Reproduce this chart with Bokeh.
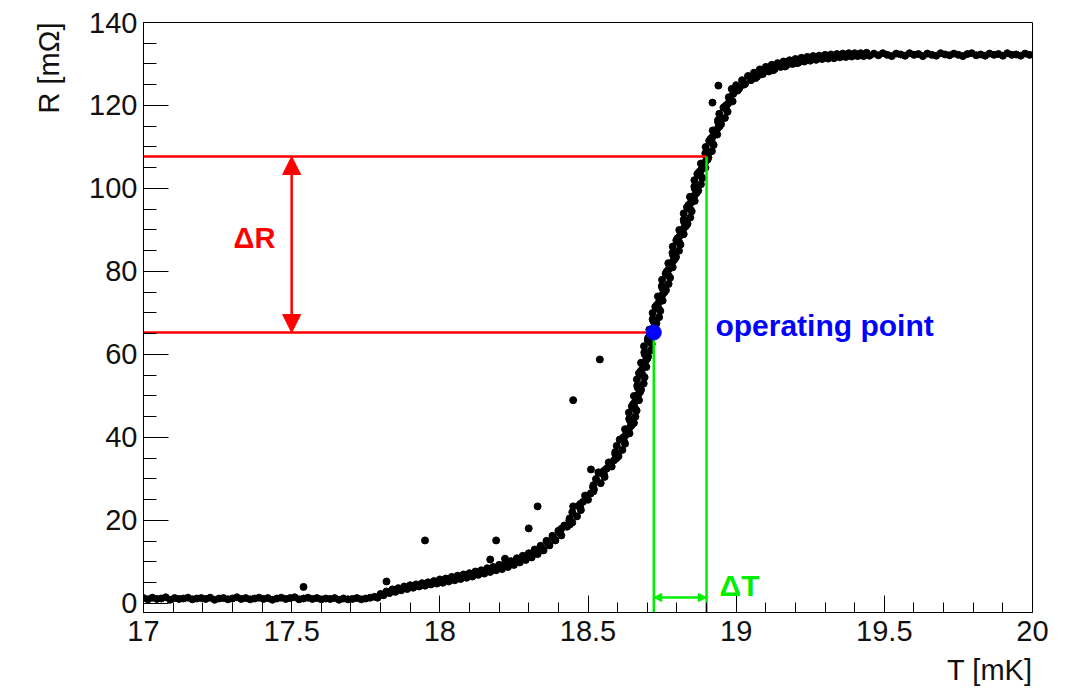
import math
from bokeh.plotting import figure
from bokeh.models import (Arrow, NormalHead, Label, FixedTicker, Title,
                          NumeralTickFormatter, Range1d)
from bokeh.embed import file_html
from bokeh.resources import INLINE

# ---------------- data ----------------
t_flat_low = [17.000, 17.015, 17.030, 17.045, 17.060, 17.075, 17.090, 17.105, 17.120, 17.135,
              17.150, 17.165, 17.180, 17.195, 17.210, 17.225, 17.240, 17.255, 17.270, 17.285,
              17.300, 17.315, 17.330, 17.345, 17.360, 17.375, 17.390, 17.405, 17.420, 17.435,
              17.450, 17.465, 17.480, 17.495, 17.510, 17.525, 17.540, 17.555, 17.570, 17.585,
              17.600, 17.615, 17.630, 17.645, 17.660, 17.675, 17.690, 17.705, 17.720, 17.735,
              17.750, 17.765, 17.780]
r_flat_low = [1.3, 1.0, 1.4, 1.1, 1.2, 1.5, 0.9, 1.3, 1.1, 1.2,
              1.4, 1.0, 1.2, 1.3, 1.1, 1.4, 0.9, 1.2, 1.3, 1.0,
              1.2, 1.5, 1.1, 1.3, 1.0, 1.2, 1.4, 1.1, 1.3, 0.9,
              1.2, 1.4, 1.1, 1.3, 1.5, 1.0, 1.2, 1.4, 1.1, 1.3,
              1.0, 1.2, 1.1, 1.3, 0.9, 1.2, 1.0, 1.1, 1.3, 1.0,
              1.2, 1.4, 1.6]

t_rise = [17.79, 17.80, 17.81, 17.82, 17.83, 17.84, 17.85, 17.86, 17.87, 17.88,
          17.89, 17.90, 17.91, 17.92, 17.93, 17.94, 17.95, 17.96, 17.97, 17.98,
          17.99, 18.00, 18.01, 18.02, 18.03, 18.04, 18.05, 18.06, 18.07, 18.08,
          18.09, 18.10, 18.11, 18.12, 18.13, 18.14, 18.15, 18.16, 18.17, 18.18,
          18.19, 18.20, 18.21, 18.22, 18.23, 18.24, 18.25, 18.26, 18.27, 18.28,
          18.29, 18.30, 18.31, 18.32, 18.33, 18.34, 18.35, 18.36, 18.37, 18.38,
          18.39, 18.40, 18.41, 18.42]
r_rise = [1.4, 2.3, 2.0, 2.9, 2.5, 3.4, 2.8, 3.7, 3.2, 4.1,
          3.5, 4.4, 3.8, 4.6, 4.1, 4.9, 4.3, 5.1, 4.6, 5.4,
          4.8, 5.8, 5.0, 6.0, 5.3, 6.4, 5.6, 6.7, 5.9, 7.0,
          6.2, 7.3, 6.5, 7.7, 6.9, 8.0, 7.2, 8.5, 7.6, 8.8,
          8.0, 9.3, 8.3, 9.7, 8.8, 10.2, 9.3, 10.9, 9.9, 11.5,
          10.5, 12.1, 11.1, 13.0, 11.9, 13.9, 12.8, 15.1, 14.0, 16.3,
          15.2, 17.5, 16.4, 18.8]

t_rise2 = [17.805, 17.825, 17.845, 17.865, 17.885, 17.905, 17.925, 17.945, 17.965, 17.985,
           18.005, 18.025, 18.045, 18.065, 18.085, 18.105, 18.125, 18.145, 18.165, 18.185,
           18.205, 18.225, 18.245, 18.265, 18.285, 18.305, 18.325, 18.345, 18.365, 18.385,
           18.405]
r_rise2 = [2.1, 2.7, 3.0, 3.4, 3.8, 4.0, 4.3, 4.6, 4.8, 5.1,
           5.3, 5.6, 6.0, 6.2, 6.6, 6.9, 7.3, 7.6, 8.0, 8.4,
           8.8, 9.2, 9.8, 10.3, 11.0, 11.6, 12.4, 13.3, 14.5, 15.7,
           17.0]

r_steep = [18, 19, 20, 21, 22, 23, 24, 25, 26, 27, 28, 29, 30, 31, 32, 33, 34, 35, 36, 37,
           38, 39, 40, 41, 42, 43, 44, 45, 46, 47, 48, 49, 50, 51, 52, 53, 54, 55, 56, 57,
           58, 59, 60, 61, 62, 63, 64, 65, 66, 67, 68, 69, 70, 71, 72, 73, 74, 75, 76, 77,
           78, 79, 80, 81, 82, 83, 84, 85, 86, 87, 88, 89, 90, 91, 92, 93, 94, 95, 96, 97,
           98, 99, 100, 101, 102, 103, 104, 105, 106, 107, 108, 109, 110, 111, 112, 113, 114,
           115, 116, 117, 118, 119, 120, 121, 122]
t_steep = [18.410, 18.438, 18.437, 18.463, 18.447, 18.474, 18.474, 18.500, 18.490, 18.518,
           18.517, 18.543, 18.527, 18.554, 18.554, 18.580, 18.570, 18.596, 18.592, 18.616,
           18.597, 18.622, 18.619, 18.640, 18.625, 18.648, 18.642, 18.660, 18.638, 18.659,
           18.652, 18.672, 18.655, 18.676, 18.668, 18.688, 18.665, 18.685, 18.678, 18.697,
           18.679, 18.700, 18.692, 18.712, 18.689, 18.710, 18.703, 18.723, 18.707, 18.728,
           18.721, 18.740, 18.718, 18.739, 18.733, 18.752, 18.736, 18.758, 18.751, 18.772,
           18.750, 18.772, 18.766, 18.786, 18.771, 18.793, 18.787, 18.807, 18.786, 18.808,
           18.802, 18.823, 18.808, 18.831, 18.824, 18.845, 18.823, 18.845, 18.839, 18.860,
           18.844, 18.867, 18.860, 18.881, 18.859, 18.881, 18.875, 18.896, 18.881, 18.904,
           18.897, 18.918, 18.897, 18.919, 18.914, 18.936, 18.921, 18.944, 18.939, 18.962,
           18.943, 18.967, 18.965, 18.988, 18.975]

r_steep2 = [18.5, 20.5, 22.5, 24.5, 26.5, 28.5, 30.5, 32.5, 34.5, 36.5,
            38.5, 40.5, 42.5, 44.5, 46.5, 48.5, 50.5, 52.5, 54.5, 56.5,
            58.5, 60.5, 62.5, 64.5, 66.5, 68.5, 70.5, 72.5, 74.5, 76.5,
            78.5, 80.5, 82.5, 84.5, 86.5, 88.5, 90.5, 92.5, 94.5, 96.5,
            98.5, 100.5, 102.5, 104.5, 106.5, 108.5, 110.5, 112.5, 114.5, 116.5,
            118.5, 120.5]
t_steep2 = [18.429, 18.438, 18.476, 18.483, 18.509, 18.518, 18.556, 18.563, 18.588, 18.592,
            18.625, 18.626, 18.642, 18.639, 18.664, 18.658, 18.671, 18.666, 18.691, 18.683,
            18.695, 18.690, 18.715, 18.709, 18.722, 18.718, 18.744, 18.739, 18.752, 18.749,
            18.777, 18.772, 18.787, 18.785, 18.812, 18.809, 18.824, 18.823, 18.850, 18.846,
            18.861, 18.859, 18.886, 18.882, 18.897, 18.896, 18.924, 18.921, 18.938, 18.939,
            18.971, 18.973]

r_steep3 = [19.5, 23.5, 27.5, 31.5, 35.5, 39.5, 43.5, 47.5, 51.5, 55.5,
            59.5, 63.5, 67.5, 71.5, 75.5, 79.5, 83.5, 87.5, 91.5, 95.5,
            99.5, 103.5, 107.5, 111.5, 115.5, 119.5]
t_steep3 = [18.447, 18.468, 18.520, 18.541, 18.603, 18.607, 18.655, 18.648, 18.679, 18.672,
            18.703, 18.702, 18.731, 18.727, 18.763, 18.762, 18.797, 18.798, 18.836, 18.834,
            18.872, 18.869, 18.906, 18.909, 18.949, 18.957]

t_knee = [18.99, 19.00, 19.01, 19.02, 19.03, 19.04, 19.05, 19.06, 19.07, 19.08,
          19.09, 19.10, 19.11, 19.12, 19.13, 19.14, 19.15, 19.16, 19.17, 19.18,
          19.19, 19.20, 19.21, 19.22, 19.23, 19.24, 19.25, 19.26, 19.27, 19.28,
          19.29, 19.30, 19.31, 19.32, 19.33, 19.34, 19.35, 19.36, 19.37, 19.38,
          19.39, 19.40, 19.41, 19.42, 19.43, 19.44,
          18.985, 19.005, 19.025, 19.045, 19.065, 19.085, 19.105, 19.125, 19.145, 19.165,
          19.185, 19.205]
r_knee = [122.8, 124.9, 124.1, 126.1, 125.2, 127.1, 126.1, 127.9, 126.9, 128.7,
          127.6, 129.3, 128.2, 129.8, 128.8, 130.2, 129.3, 130.6, 129.7, 130.9,
          130.0, 131.2, 130.3, 131.5, 130.6, 131.7, 130.8, 131.9, 131.0, 132.0,
          131.2, 132.2, 131.3, 132.3, 131.4, 132.4, 131.6, 132.5, 131.7, 132.6,
          131.8, 132.6, 131.9, 132.6, 131.9, 132.7,
          124.0, 123.6, 125.0, 126.9, 126.6, 127.5, 128.9, 128.5, 129.9, 129.4,
          130.5, 130.2]

t_flat_high = [19.450, 19.465, 19.480, 19.495, 19.510, 19.525, 19.540, 19.555, 19.570, 19.585,
               19.600, 19.615, 19.630, 19.645, 19.660, 19.675, 19.690, 19.705, 19.720, 19.735,
               19.750, 19.765, 19.780, 19.795, 19.810, 19.825, 19.840, 19.855, 19.870, 19.885,
               19.900, 19.915, 19.930, 19.945, 19.960, 19.975, 19.990]
r_flat_high = [132.0, 132.5, 132.1, 132.6, 132.2, 131.9, 132.5, 132.3, 132.0, 132.6,
               132.2, 132.4, 131.9, 132.5, 132.2, 132.0, 132.6, 132.3, 132.1, 132.5,
               132.2, 131.9, 132.4, 132.6, 132.1, 132.3, 132.0, 132.5, 132.2, 132.4,
               132.0, 132.6, 132.2, 132.3, 132.0, 132.5, 132.2]

t_outliers = [17.54, 17.82, 17.95, 18.17, 18.19, 18.22, 18.30, 18.33, 18.45, 18.45,
              18.51, 18.535, 18.54, 18.92, 18.94]
r_outliers = [4.0, 5.3, 15.2, 10.6, 15.2, 10.8, 18.1, 23.4, 23.4, 49.0,
              32.3, 31.6, 58.8, 120.7, 124.8]

# annotation values
T_op, R_op = 18.722, 65.3        # operating point
T_hi, R_hi = 18.900, 107.7       # upper end of the interval
T_arrow_R = 17.5                 # where the ΔR arrow sits
R_arrow_T = 1.45                 # where the ΔT arrow sits

x_major = [17, 17.5, 18, 18.5, 19, 19.5, 20]
y_major = [0, 20, 40, 60, 80, 100, 120, 140]

pairs = [(t_flat_low, r_flat_low), (t_rise, r_rise), (t_rise2, r_rise2),
         (t_steep, r_steep), (t_steep2, r_steep2), (t_steep3, r_steep3),
         (t_knee, r_knee), (t_flat_high, r_flat_high), (t_outliers, r_outliers)]
for a, b in pairs:
    assert len(a) == len(b), (len(a), len(b))
T_all = [v for a, _ in pairs for v in a]
R_all = [v for _, b in pairs for v in b]

FONT = "Liberation Sans"
Y_MIN = -2.17

p = figure(width=1074, height=698, output_backend="svg", toolbar_location=None,
           x_range=Range1d(17, 20), y_range=Range1d(Y_MIN, 140),
           min_border_left=143, min_border_right=42, min_border_top=22,
           min_border_bottom=86)
p.background_fill_color = "white"
p.border_fill_color = "white"
p.outline_line_color = "black"
p.outline_line_width = 1
p.xgrid.visible = False
p.ygrid.visible = False

# axes
p.xaxis.ticker = FixedTicker(ticks=x_major,
                             minor_ticks=[round(17 + 0.1 * i, 1) for i in range(31)])
p.yaxis.ticker = FixedTicker(ticks=y_major, minor_ticks=list(range(0, 141, 5)))
p.xaxis.formatter = NumeralTickFormatter(format="0.[0]")
p.yaxis.formatter = NumeralTickFormatter(format="0")
for ax in (p.xaxis, p.yaxis):
    ax.axis_line_color = "black"
    ax.major_tick_line_color = "black"
    ax.minor_tick_line_color = "black"
    ax.major_tick_out = 0
    ax.minor_tick_out = 0
    ax.major_label_text_font = FONT
    ax.major_label_text_font_size = "29px"
    ax.major_label_text_color = "#111111"
p.yaxis.major_tick_in = 25
p.yaxis.minor_tick_in = 13
p.xaxis.major_tick_in = 17
p.xaxis.minor_tick_in = 10
p.yaxis.major_label_standoff = 6
p.xaxis.major_label_standoff = 8

# axis titles (ROOT style: aligned to the end of the axis)
p.add_layout(Title(text="T [mK]", align="right", text_font=FONT, text_font_size="29px",
                   text_font_style="normal", text_color="#111111", standoff=16), "below")
p.add_layout(Title(text="R [mΩ]", align="right", text_font=FONT, text_font_size="29px",
                   text_font_style="normal", text_color="#111111", standoff=43), "left")

# data
p.scatter(T_all, R_all, size=7, color="black", marker="circle")

# red horizontal lines
p.segment(x0=[17, 17], y0=[R_hi, R_op], x1=[T_hi, T_op], y1=[R_hi, R_op],
          line_color="#ff0000", line_width=2.5)
# green vertical lines
p.segment(x0=[T_op, T_hi], y0=[Y_MIN, Y_MIN], x1=[T_op, T_hi], y1=[R_op, R_hi],
          line_color="#00ee00", line_width=2.5)

# arrows
p.add_layout(Arrow(x_start=T_arrow_R, y_start=R_op, x_end=T_arrow_R, y_end=R_hi,
                   line_color="#ff0000", line_width=2.5,
                   start=NormalHead(size=18, fill_color="#ff0000", line_color="#ff0000"),
                   end=NormalHead(size=18, fill_color="#ff0000", line_color="#ff0000")))
p.add_layout(Arrow(x_start=T_op, y_start=R_arrow_T, x_end=T_hi, y_end=R_arrow_T,
                   line_color="#00ee00", line_width=2.5,
                   start=NormalHead(size=8, fill_color="#00ee00", line_color="#00ee00"),
                   end=NormalHead(size=8, fill_color="#00ee00", line_color="#00ee00")))

# operating point
p.scatter([T_op], [R_op], size=15, color="#0000ff", marker="circle")

# texts
p.add_layout(Label(x=17.445, y=88, text="ΔR", text_align="right", text_baseline="middle",
                   text_font=FONT, text_font_style="bold", text_font_size="29px",
                   text_color="#ff0000"))
p.add_layout(Label(x=18.944, y=4.3, text="ΔT", text_align="left", text_baseline="middle",
                   text_font=FONT, text_font_style="bold", text_font_size="30px",
                   text_color="#00ee00"))
p.add_layout(Label(x=18.930, y=67, text="operating point", text_align="left",
                   text_baseline="middle", text_font=FONT, text_font_style="bold",
                   text_font_size="30px", text_color="#0000ff"))

open("out.html", "w").write(file_html(p, INLINE))
